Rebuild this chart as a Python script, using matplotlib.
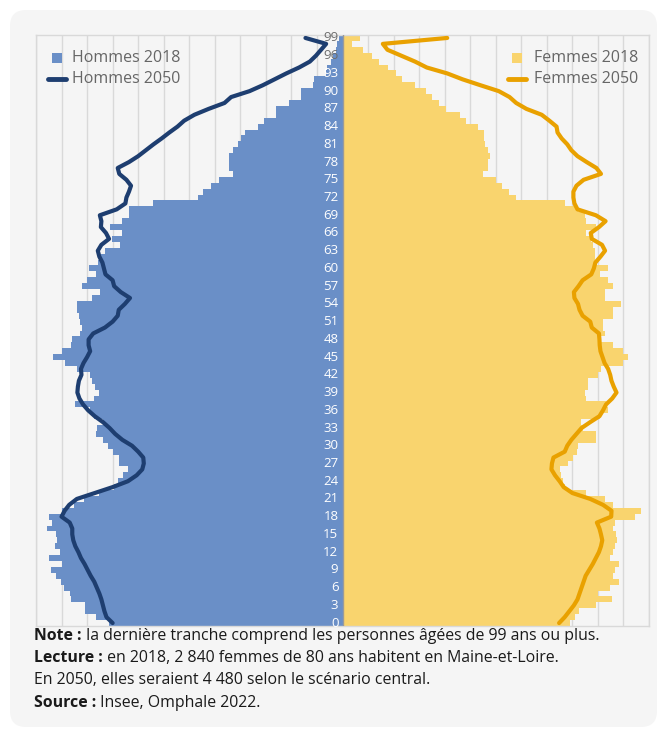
import matplotlib
matplotlib.use("Agg")
import matplotlib.pyplot as plt
from matplotlib.patches import FancyBboxPatch, Rectangle
from matplotlib.lines import Line2D
import numpy as np

# ---------------- data ----------------
ages = list(range(100))

hommes_2018 = [4567, 4828, 5037, 5037, 5318, 5331, 5449, 5514, 5612, 5700,
               5494, 5743, 5533, 5625, 5580, 5612, 5776, 5678, 5743, 5482,
               5253, 5057, 4763, 4469, 4404, 4306, 4208, 4371, 4384, 4502,
               4600, 4698, 4828, 4808, 4698, 4861, 4950, 5233, 4861, 4763,
               4841, 4894, 4946, 5207, 5429, 5664, 5482, 5318, 5286, 5142,
               5102, 5135, 5155, 5188, 5207, 4894, 4743, 5102, 5011, 4828,
               4959, 4796, 4730, 4645, 4357, 4514, 4318, 4547, 4318, 4175,
               4175, 3718, 2822, 2738, 2574, 2411, 2136, 2230, 2230, 2215,
               2150, 2040, 1990, 1900, 1650, 1530, 1300, 1300, 1040, 810,
               820, 570, 560, 330, 300, 230, 180, 130, 100, 60]

femmes_2018 = [4449, 4547, 4632, 4972, 5266, 5005, 5233, 5416, 5298, 5331,
               5416, 5233, 5286, 5331, 5364, 5350, 5298, 5331, 5723, 5835,
               5298, 5135, 4776, 4351, 4319, 4286, 4253, 4417, 4515, 4594,
               4613, 4972, 4972, 4711, 4678, 5037, 5201, 5168, 4776, 4743,
               4809, 4809, 5005, 5070, 5494, 5593, 5494, 5286, 5070, 5135,
               5102, 5102, 5298, 5298, 5443, 5135, 5135, 5298, 5201, 5037,
               5201, 4970, 4939, 4939, 4907, 4874, 4776, 4972, 4776, 4743,
               4613, 4351, 3396, 3265, 3121, 3004, 2743, 2840, 2840, 2893,
               2840, 2795, 2775, 2775, 2645, 2416, 2299, 2024, 1881, 1750,
               1633, 1424, 1162, 1045, 882, 718, 575, 405, 180, 350]

hommes_2050 = [4500, 4620, 4660, 4690, 4720, 4760, 4810, 4860, 4930, 4990,
               5050, 5120, 5170, 5230, 5270, 5290, 5290, 5340, 5500, 5440,
               5350, 5200, 4850, 4500, 4200, 4030, 3920, 3890, 3900, 4000,
               4120, 4310, 4450, 4560, 4690, 4850, 4980, 5080, 5150, 5190,
               5180, 5160, 5110, 5120, 5070, 5000, 4940, 4970, 4970, 4880,
               4650, 4500, 4400, 4380, 4260, 4160, 4340, 4470, 4500, 4640,
               4670, 4700, 4760, 4790, 4720, 4570, 4630, 4730, 4720, 4750,
               4420, 4250, 4230, 4180, 4140, 4230, 4370, 4400, 4180, 4000,
               3850, 3700, 3540, 3390, 3230, 3100, 2900, 2620, 2310, 2180,
               1820, 1560, 1330, 1100, 850, 640, 520, 420, 320, 725]

femmes_2050 = [4240, 4350, 4440, 4530, 4600, 4640, 4680, 4720, 4760, 4830,
               4900, 4960, 5020, 5060, 5085, 5060, 5030, 4980, 5260, 5266,
               5100, 4850, 4500, 4330, 4250, 4160, 4090, 4100, 4130, 4350,
               4400, 4480, 4580, 4680, 4850, 5030, 5100, 5160, 5280, 5364,
               5310, 5265, 5240, 5200, 5130, 5090, 5050, 5035, 5030, 5020,
               4880, 4850, 4700, 4640, 4610, 4540, 4530, 4620, 4700, 4870,
               4920, 4950, 5050, 5140, 5080, 4880, 4860, 5020, 5150, 4960,
               4600, 4540, 4520, 4520, 4580, 4720, 5060, 4970, 4780, 4600,
               4480, 4400, 4290, 4210, 4190, 4050, 3900, 3600, 3400, 3270,
               3060, 2700, 2350, 2050, 1650, 1420, 1150, 880, 790, 2050]

age_labels = list(range(0, 100, 3))
legend_left = ["Hommes 2018", "Hommes 2050"]
legend_right = ["Femmes 2018", "Femmes 2050"]

# ---------------- style ----------------
C_H18 = "#6a8fc7"
C_F18 = "#f9d46e"
C_H50 = "#1e3e70"
C_F50 = "#e9a100"
C_PANEL = "#f5f5f5"
C_GRID = "#d9d9d9"
C_LEG = "#666666"
FONT = "Open Sans"

W, H = 659, 729
fig = plt.figure(figsize=(W / 100, H / 100), dpi=100)
fig.patch.set_facecolor("white")

# background panel (pixel coordinates)
bg = fig.add_axes([0, 0, 1, 1], zorder=0)
bg.set_xlim(0, W)
bg.set_ylim(H, 0)
bg.axis("off")
bg.add_patch(FancyBboxPatch((10, 10), 647, 717,
                            boxstyle="round,pad=0,rounding_size=16",
                            facecolor=C_PANEL, edgecolor="none"))

# main axes
L, R, T, B = 36, 649, 35, 626
ax = fig.add_axes([L / W, 1 - B / H, (R - L) / W, (B - T) / H], zorder=1)
ax.set_facecolor("none")
ax.set_xlim(-6000, 6000)
ax.set_ylim(-0.5, 99.5)
ax.set_xticks(np.arange(-6000, 6001, 500))
ax.set_yticks([])
ax.tick_params(length=0, labelbottom=False, labelleft=False)
ax.grid(axis="x", color=C_GRID, lw=1)
ax.set_axisbelow(True)
for s in ax.spines.values():
    s.set_color(C_GRID)
    s.set_linewidth(1)

ax.barh(ages, [-v for v in hommes_2018], height=1.0, color=C_H18, linewidth=0, zorder=2)
ax.barh(ages, femmes_2018, height=1.0, color=C_F18, linewidth=0, zorder=2)
ax.axvline(0, color="#9a9a9a", lw=1, zorder=3)

ax.plot([-v for v in hommes_2050], ages, color=C_H50, lw=3,
        solid_joinstyle="round", solid_capstyle="round", zorder=4)
ax.plot(femmes_2050, ages, color=C_F50, lw=3,
        solid_joinstyle="round", solid_capstyle="round", zorder=4)

for a in age_labels:
    col = "#6e6e6e" if a >= 96 else "white"
    ax.text(-80, a, str(a), ha="right", va="center", color=col,
            fontsize=9.5, family=FONT, zorder=5)

# foreground overlay (legend + notes)
fg = fig.add_axes([0, 0, 1, 1], zorder=2)
fg.set_xlim(0, W)
fg.set_ylim(H, 0)
fg.axis("off")
fg.patch.set_alpha(0)

# left legend
fg.add_patch(Rectangle((51.7, 52.7), 10, 10, facecolor=C_H18, edgecolor="none"))
fg.text(71.7, 57.7, legend_left[0], ha="left", va="center", color=C_LEG,
        fontsize=11.5, family=FONT)
fg.add_line(Line2D([47.5, 66], [79.3, 79.3], color=C_H50, lw=3.5, solid_capstyle="round"))
fg.text(71.7, 79.3, legend_left[1], ha="left", va="center", color=C_LEG,
        fontsize=11.5, family=FONT)
# right legend
fg.add_patch(Rectangle((511.7, 52.7), 10, 10, facecolor=C_F18, edgecolor="none"))
fg.text(534, 57.7, legend_right[0], ha="left", va="center", color=C_LEG,
        fontsize=11.5, family=FONT)
fg.add_line(Line2D([507.5, 526], [79.3, 79.3], color=C_F50, lw=3.5, solid_capstyle="round"))
fg.text(534, 79.3, legend_right[1], ha="left", va="center", color=C_LEG,
        fontsize=11.5, family=FONT)

# notes
notes = [
    ("Note :", " la dernière tranche comprend les personnes âgées de 99 ans ou plus.", 636),
    ("Lecture :", " en 2018, 2 840 femmes de 80 ans habitent en Maine-et-Loire.", 658),
    ("", "En 2050, elles seraient 4 480 selon le scénario central.", 680),
    ("Source :", " Insee, Omphale 2022.", 703),
]
NOTE_FS = 11.4
fig.canvas.draw()
renderer = fig.canvas.get_renderer()
inv = fg.transData.inverted()
for bold, rest, y in notes:
    x0 = 34
    if bold:
        t = fg.text(x0, y, bold, ha="left", va="center", fontsize=NOTE_FS,
                    family=FONT, fontweight="bold", color="#1a1a1a")
        bb = t.get_window_extent(renderer=renderer)
        x0 = inv.transform((bb.x1, bb.y0))[0]
    fg.text(x0, y, rest, ha="left", va="center", fontsize=NOTE_FS,
            family=FONT, color="#1a1a1a")

fig.savefig("out.png", dpi=100, facecolor="white")
